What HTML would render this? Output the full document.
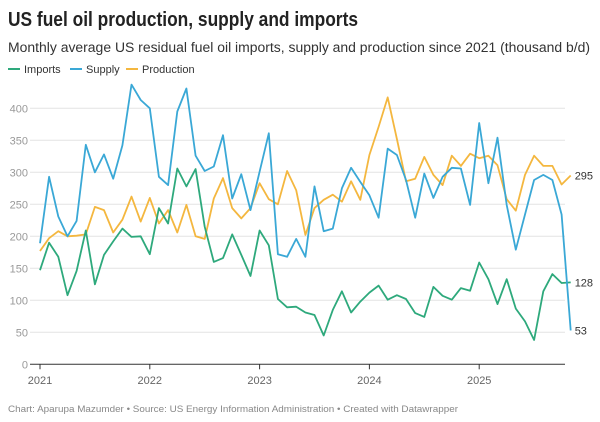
<!DOCTYPE html>
<html><head><meta charset="utf-8"><style>
body{margin:0;background:#fff;font-family:"Liberation Sans",sans-serif;}
#wrap{position:relative;width:600px;height:422px;overflow:hidden;}
</style></head><body>
<div id="wrap">
<svg id="chart" width="600" height="422" style="position:absolute;left:0;top:0">
<text x="8" y="26" font-size="20" font-weight="bold" fill="#222" textLength="350" lengthAdjust="spacingAndGlyphs">US fuel oil production, supply and imports</text>
<text x="8" y="52" font-size="13.5" fill="#333" textLength="582" lengthAdjust="spacingAndGlyphs">Monthly average US residual fuel oil imports, supply and production since 2021 (thousand b/d)</text>
<g font-size="11" fill="#333">
<g><line x1="8" y1="69" x2="20" y2="69" stroke="#2ea97c" stroke-width="2"/><text x="24" y="73">Imports</text></g>
<g><line x1="70" y1="69" x2="82" y2="69" stroke="#3aa8d6" stroke-width="2"/><text x="86" y="73">Supply</text></g>
<g><line x1="126" y1="69" x2="138" y2="69" stroke="#f4b73f" stroke-width="2"/><text x="142" y="73">Production</text></g>
</g>
<g id="grid"></g><g id="series"></g>
<text x="8" y="412" font-size="9.5" fill="#888" textLength="450" lengthAdjust="spacingAndGlyphs">Chart: Aparupa Mazumder • Source: US Energy Information Administration • Created with Datawrapper</text>
</svg>
</div>
<script>
const months = Array.from({length:59},(_,i)=>i);
const yTicks = [0,50,100,150,200,250,300,350,400];
const xTickLabels = ["2021","2022","2023","2024","2025"];
const xTickIdx = [0,12,24,36,48];
const imports = [147,190,168,108,146,209,125,171,192,212,199,200,172,244,220,306,278,305,215,160,166,203,171,138,209,186,102,89,90,81,77,45,85,114,81,98,112,123,101,108,102,80,74,121,107,101,119,115,159,133,94,133,87,67,38,114,141,127,128];
const supply = [189,293,231,200,224,343,300,328,290,342,437,413,400,293,280,395,431,326,302,309,358,259,297,241,301,361,172,168,196,168,278,208,212,275,307,285,264,229,337,327,288,229,298,260,293,307,306,249,377,283,354,249,179,234,288,296,288,234,53];
const production = [177,197,208,200,201,203,246,241,206,226,262,223,260,220,241,206,249,200,196,259,291,244,228,244,283,258,250,302,272,202,244,257,265,254,286,257,327,371,417,352,286,290,324,296,280,326,310,329,322,326,311,258,240,296,326,310,310,281,295];
const x = i => 40 + i*9.15;
const y = v => 364.3 - v*0.64;
const NS="http://www.w3.org/2000/svg";
const grid=document.getElementById('grid'), ser=document.getElementById('series');
function mk(tag,attrs,parent){const e=document.createElementNS(NS,tag);for(const k in attrs)e.setAttribute(k,attrs[k]);parent.appendChild(e);return e;}
yTicks.forEach(t=>{
  const l=mk('line',{x1:30,x2:565,y1:y(t),y2:y(t),stroke:t===0?'#333':'#e3e3e3','stroke-width':1},grid);
  
  
  const tx=mk('text',{x:28,y:y(t)+4,'font-size':11,fill:'#999','text-anchor':'end'},grid);
  tx.textContent=t;
  
  
});
xTickLabels.forEach((lab,k)=>{
  const xx=x(xTickIdx[k]);
  const tk=mk('line',{x1:xx,x2:xx,y1:y(0),y2:y(0)+5,stroke:'#333'},grid);
  
  
  const tx=mk('text',{x:xx,y:384,'font-size':11,fill:'#666','text-anchor':'middle'},grid);
  tx.textContent=lab;
  
  
});
function draw(vals,color,name){
  const p=mk('path',{d:vals.map((v,i)=>(i?'L':'M')+x(i).toFixed(1)+','+y(v).toFixed(1)).join(''),fill:'none',stroke:color,'stroke-width':1.8,'stroke-linejoin':'round'},ser);
  
  
  const last=vals[vals.length-1];
  const t=mk('text',{x:x(vals.length-1)+4,y:y(last)+4,'font-size':11,fill:'#333'},ser);
  t.textContent=last;
  
  
}
draw(production,'#f4b73f','production');
draw(imports,'#2ea97c','imports');
draw(supply,'#3aa8d6','supply');
</script>
</body></html>
